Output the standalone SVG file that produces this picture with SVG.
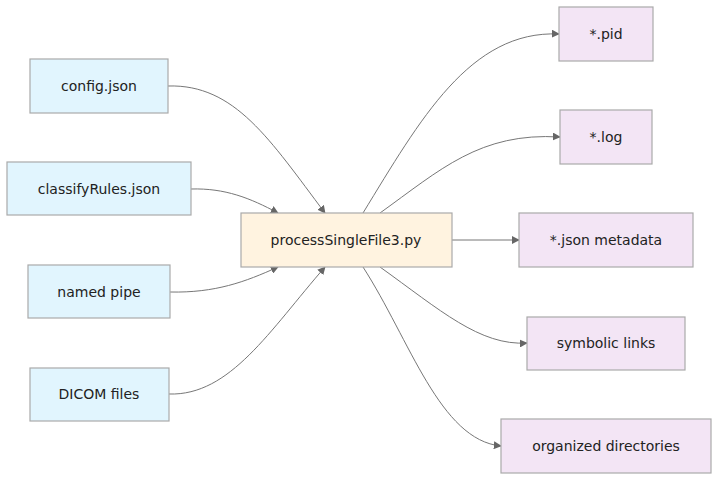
<svg xmlns="http://www.w3.org/2000/svg" width="727" height="486" viewBox="0 0 727 486">
<defs>
<marker id="arr" viewBox="0 0 10 10" refX="9" refY="5" markerWidth="8" markerHeight="8" markerUnits="userSpaceOnUse" orient="auto"><path d="M0,0 L10,5 L0,10 z" fill="#666"/></marker>
<style>
.in rect{fill:#e1f5fe;stroke:#aaa;stroke-width:1.2}
.proc rect{fill:#fff3e0;stroke:#aaa;stroke-width:1.2}
.out rect{fill:#f3e5f5;stroke:#aaa;stroke-width:1.2}
text{font-family:"DejaVu Sans",sans-serif;font-size:14px;fill:#222;text-anchor:middle;dominant-baseline:central}
.edges path{fill:none;stroke:#777;stroke-width:1;marker-end:url(#arr)}
</style>
</defs>
<g class="edges" id="connectors">
<path d="M168,86 C235,84 270,140 325,213"/>
<path d="M191,189 C225,188 250,198 278,213"/>
<path d="M170,292 C215,293 245,282 278,267"/>
<path d="M169,394 C230,396 270,330 325,267"/>
<path d="M363,213 C420,120 470,30 559,34"/>
<path d="M380,213 C440,170 480,132 560,137"/>
<path d="M452,240 L519,240"/>
<path d="M380,267 C440,310 480,346 527,343"/>
<path d="M363,267 C410,340 440,440 501,446"/>
</g>
<g id="config" class="in"><rect x="30" y="59" width="138" height="54"/><text x="99" y="86">config.json</text></g>
<g id="classify" class="in"><rect x="7" y="162" width="184" height="53"/><text x="99" y="189">classifyRules.json</text></g>
<g id="pipe" class="in"><rect x="28" y="265" width="142" height="53"/><text x="99" y="292">named pipe</text></g>
<g id="dicom" class="in"><rect x="30" y="368" width="139" height="53"/><text x="99" y="394">DICOM files</text></g>
<g id="process" class="proc"><rect x="241" y="213" width="211" height="54"/><text x="346" y="240">processSingleFile3.py</text></g>
<g id="pid" class="out"><rect x="559" y="7" width="94" height="54"/><text x="606" y="34">*.pid</text></g>
<g id="log" class="out"><rect x="560" y="110" width="92" height="54"/><text x="606" y="137">*.log</text></g>
<g id="json" class="out"><rect x="519" y="213" width="174" height="54"/><text x="606" y="240">*.json metadata</text></g>
<g id="symlinks" class="out"><rect x="527" y="317" width="158" height="53"/><text x="606" y="343">symbolic links</text></g>
<g id="dirs" class="out"><rect x="501" y="419" width="210" height="54"/><text x="606" y="446">organized directories</text></g>
</svg>
